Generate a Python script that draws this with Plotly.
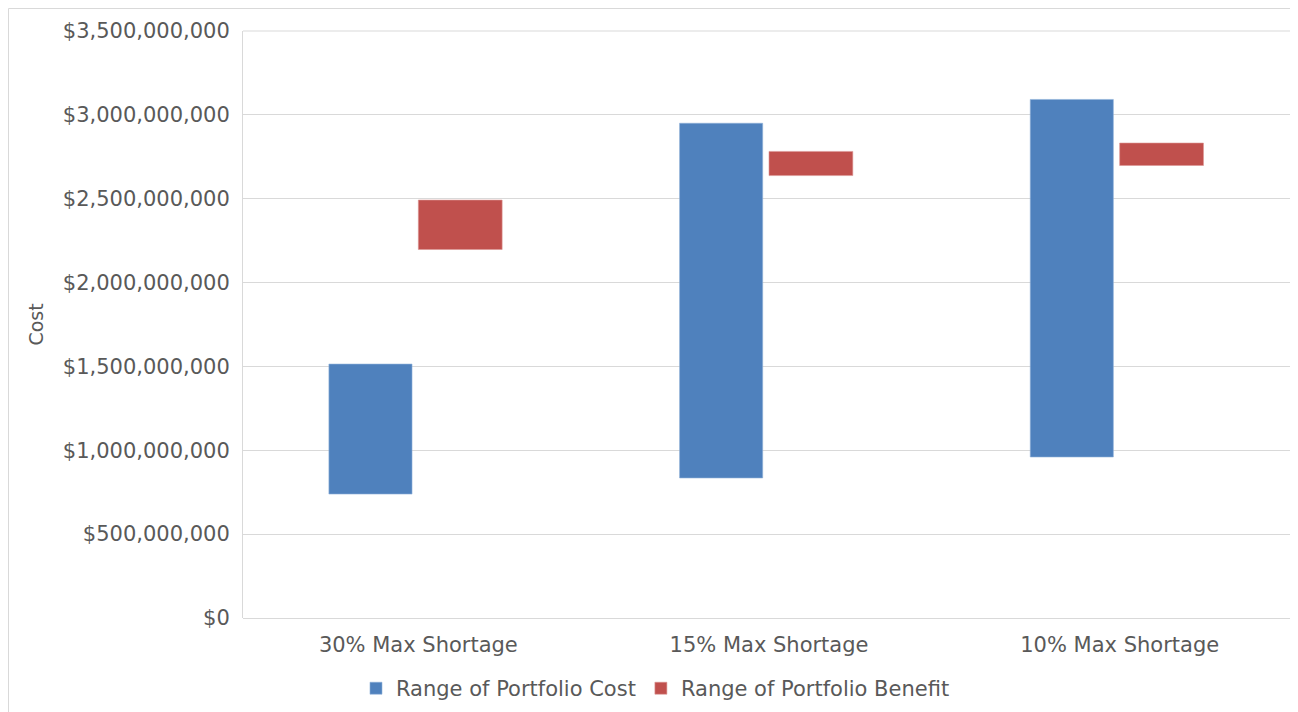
import plotly.graph_objects as go

categories = ["30% Max Shortage", "15% Max Shortage", "10% Max Shortage"]
cost_low = [739e6, 835e6, 960e6]
cost_high = [1514e6, 2950e6, 3092e6]
benefit_low = [2197e6, 2638e6, 2698e6]
benefit_high = [2492e6, 2782e6, 2832e6]
y_ticks = [0, 500e6, 1000e6, 1500e6, 2000e6, 2500e6, 3000e6, 3500e6]
y_tick_labels = ["$0", "$500,000,000", "$1,000,000,000", "$1,500,000,000",
                 "$2,000,000,000", "$2,500,000,000", "$3,000,000,000", "$3,500,000,000"]

FONT = "DejaVu Sans"
TXT = "#595959"
GRID = "#d9d9d9"

fig = go.Figure()
fig.add_trace(go.Bar(
    name="Range of Portfolio Cost", x=categories,
    y=[h - l for h, l in zip(cost_high, cost_low)], base=cost_low,
    marker=dict(color="#4F81BD", line=dict(color="#8fb0d8", width=0.6)),
    width=0.237, offset=-0.255,
))
fig.add_trace(go.Bar(
    name="Range of Portfolio Benefit", x=categories,
    y=[h - l for h, l in zip(benefit_high, benefit_low)], base=benefit_low,
    marker=dict(color="#C0504D", line=dict(color="#dc9593", width=0.6)),
    width=0.239, offset=0.0,
))

fig.update_layout(
    width=1290, height=704,
    margin=dict(l=235, r=3, t=23, b=94),
    paper_bgcolor="white", plot_bgcolor="white",
    barmode="overlay",
    font=dict(family=FONT, size=21, color=TXT),
    showlegend=True,
    legend=dict(orientation="h", x=0.1074, xanchor="left", y=-0.0853, yanchor="top",
                font=dict(family=FONT, size=21, color=TXT), traceorder="normal",
                bgcolor="rgba(0,0,0,0)"),
    xaxis=dict(showgrid=False, showline=False, zeroline=False, ticks="",
               tickfont=dict(family=FONT, size=21, color=TXT),
               ticklabelstandoff=12),
    yaxis=dict(range=[0, 3500e6], tickvals=y_ticks, ticktext=y_tick_labels,
               showgrid=True, gridcolor=GRID, gridwidth=1,
               zeroline=True, zerolinecolor=GRID, zerolinewidth=1,
               showline=True, linecolor=GRID, linewidth=1, mirror=False,
               ticks="", ticklabelstandoff=8,
               tickfont=dict(family=FONT, size=21, color=TXT)),
    annotations=[dict(text="Cost", x=-0.1977, y=0.5, xref="paper", yref="paper",
                      textangle=-90, showarrow=False, xanchor="center", yanchor="middle",
                      font=dict(family=FONT, size=19, color=TXT))],
    shapes=[dict(type="rect", xref="paper", yref="paper",
                 x0=-0.2229, x1=1.02, y0=-0.2, y1=1.0383,
                 line=dict(color=GRID, width=1), fillcolor="rgba(0,0,0,0)", layer="below"),
            dict(type="line", xref="paper", yref="paper", x0=0, x1=1, y0=1, y1=1,
                 line=dict(color=GRID, width=1), layer="below")],
)

fig.write_html("out.html")
